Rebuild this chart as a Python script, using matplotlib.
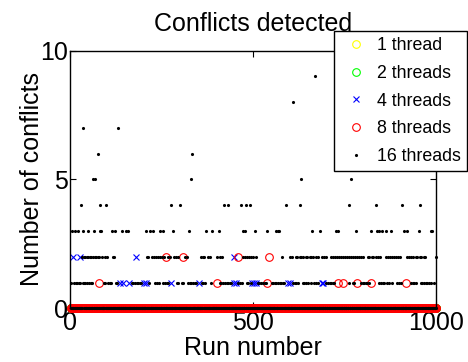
import numpy as np
import matplotlib
matplotlib.use('Agg')
import matplotlib.pyplot as plt

plt.rcParams['font.family'] = ['Liberation Sans', 'DejaVu Sans']

n_runs = 1000
labels = ['1 thread', '2 threads', '4 threads', '8 threads', '16 threads']

# runs with non-zero conflicts, per thread count (everything else is 0)
t4_level1 = [135, 145, 160, 202, 207, 275, 352, 447, 454, 497, 503, 508, 595, 600, 688, 692]
t4_level2 = [6, 26, 179, 448]

t8_level1 = [79, 400, 539, 732, 746, 785, 823, 917]
t8_level2 = [262, 308, 458, 543]

t16_level1 = [2, 5, 9, 12, 16, 19, 23, 27, 30, 34, 38, 41, 45, 49, 52, 56, 60,
              91, 95, 99, 103, 107, 111, 116, 120, 124, 128,
              168, 172, 177, 181, 186, 190, 194,
              214, 218, 223, 227, 232, 236, 241, 245, 250, 254, 259, 263, 267,
              291, 295, 300, 304, 309, 313, 318, 322, 327, 331, 336, 340, 344,
              359, 363, 368, 372, 377, 381, 385,
              409, 413, 418, 422, 427, 431, 436, 440,
              459, 463, 468, 472, 482, 486, 491, 495,
              513, 517, 522, 526, 531, 535,
              550, 554, 559, 563, 568, 572, 577, 581, 585,
              609, 613, 618, 622, 627, 631, 636, 640, 645, 649, 654, 658, 663, 667, 672, 676,
              700, 704, 709, 713, 718, 722, 726,
              763, 768, 772, 777, 785, 790, 794, 799, 803, 808, 812, 817,
              836, 840, 845, 849, 854, 858, 863, 867, 872, 876, 881, 885, 890, 894, 899, 903, 908,
              927, 931, 936, 940, 945, 949, 954, 958, 963, 967, 972, 976, 981, 985, 990, 994]
t16_level2 = [32, 36, 40, 44, 48, 53, 57, 61, 66, 70, 74, 79, 85, 94, 99, 116, 120,
              208, 213, 218, 223, 229, 234, 240, 245, 250, 255, 268, 273,
              282, 288, 294, 300, 313, 318,
              356, 362, 366, 372, 377, 381, 388, 400, 405, 410, 415, 420,
              473, 478, 483, 488, 494, 499, 507, 567, 578,
              600, 605, 610, 616, 621, 627, 632, 637, 643, 648, 654, 659, 663,
              673, 678, 683, 688, 694, 699, 714, 719, 725, 730, 735, 741, 746, 751,
              757, 762, 768, 773, 779, 785, 790, 795, 801,
              813, 818, 824, 829, 835, 840, 846,
              863, 868, 874, 879, 885, 890, 896, 901,
              922, 927, 933, 938, 944, 949, 955, 960, 966, 971, 999]
t16_level3 = [5, 12, 21, 35, 49, 65, 80, 83, 113, 122, 129, 140, 152, 158, 207, 218, 227,
              244, 253, 280, 323, 372, 388, 405, 472, 477, 505, 538, 562, 567, 571,
              660, 683, 726, 733, 767, 780, 823, 838, 844, 853, 862, 876, 912, 920,
              954, 986, 990]
t16_level4 = [30, 82, 98, 275, 300, 420, 430, 467, 479, 491, 590, 628, 761, 836, 908, 956]
t16_level5 = [62, 67, 330, 631, 767]
t16_level6 = [76, 332]
t16_level7 = [33, 129]
t16_level8 = [610]
t16_level9 = [669]

runs = np.arange(1, n_runs + 1)


def build(levels):
    vals = np.zeros(n_runs)
    for level, idx in levels.items():
        vals[np.array(idx) - 1] = level
    return vals


t1 = np.zeros(n_runs)
t2 = np.zeros(n_runs)
t4 = build({1: t4_level1, 2: t4_level2})
t8 = build({1: t8_level1, 2: t8_level2})
t16 = build({1: t16_level1, 2: t16_level2, 3: t16_level3, 4: t16_level4,
             5: t16_level5, 6: t16_level6, 7: t16_level7, 8: t16_level8,
             9: t16_level9})

fig = plt.figure(figsize=(4.68, 3.62), dpi=100)
ax = fig.add_axes([0.1506, 0.1483, 0.781, 0.7117])

ax.plot(runs, t1, 'o', color=(1, 1, 0), mfc='none', ms=5.5, mew=0.8, label=labels[0], clip_on=False)
ax.plot(runs, t2, 'o', color=(0, 1, 0), mfc='none', ms=5.5, mew=0.8, label=labels[1], clip_on=False)
ax.plot(runs, t4, 'x', color=(0, 0, 1), ms=4, mew=0.8, label=labels[2], clip_on=False)
ax.plot(runs, t8, 'o', color=(1, 0, 0), mfc='none', ms=5.5, mew=0.8, label=labels[3], clip_on=False)
ax.plot(runs, t16, '.', color='k', ms=2.5, label=labels[4], clip_on=False)

ax.set_xlim(0, 1000)
ax.set_ylim(0, 10)
ax.set_xticks([0, 500, 1000])
ax.set_yticks([0, 5, 10])
ax.tick_params(direction='in', length=4, width=0.8, labelsize=18,
               top=True, right=True, pad=2)
for s in ax.spines.values():
    s.set_linewidth(1.0)
ax.set_title('Conflicts detected', fontsize=18, pad=14)
ax.set_xlabel('Run number', fontsize=18, labelpad=1)
ax.set_ylabel('Number of conflicts', fontsize=18, labelpad=-3)

leg = ax.legend(loc='upper left', bbox_to_anchor=(334 / 468, 1 - 31 / 362),
                bbox_transform=fig.transFigure, borderaxespad=0, numpoints=1,
                fancybox=False, framealpha=1, edgecolor='k', fontsize=12.8,
                handlelength=1.75, handletextpad=0.3, borderpad=0.35,
                labelspacing=0.6)
leg.get_frame().set_linewidth(1.0)
leg.set_zorder(5)

fig.savefig('out.png', dpi=100)
